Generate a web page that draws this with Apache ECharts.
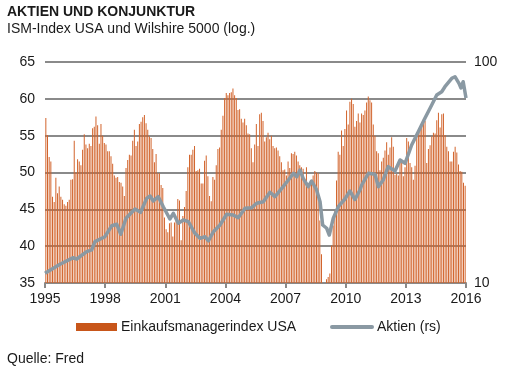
<!DOCTYPE html>
<html>
<head>
<meta charset="utf-8">
<script src="https://cdn.jsdelivr.net/npm/echarts@6/dist/echarts.min.js"></script>
<style>
html,body{margin:0;padding:0;background:#fff;}
#c{width:518px;height:383px;}
</style>
</head>
<body>
<div id="c"></div>
<script>
// ISM manufacturing index USA, monthly, Jan 1995 - Dec 2015
const ismStartYear = 1995;
const ism = [
  57.4, 55.1, 52.1, 51.5, 46.7, 46.0, 49.3, 47.2, 48.1, 46.7, 46.3, 45.7, // 1995
  45.5, 46.0, 46.3, 49.0, 49.1, 54.3, 50.0, 51.8, 51.5, 51.0, 53.1, 55.2, // 1996
  53.8, 53.3, 53.9, 53.6, 56.0, 56.2, 57.6, 56.4, 53.9, 56.6, 55.0, 54.0, // 1997
  53.8, 52.9, 52.9, 52.2, 51.2, 49.6, 49.3, 49.4, 48.7, 48.6, 48.1, 46.8, // 1998
  50.6, 51.7, 52.4, 52.3, 54.3, 55.8, 53.6, 54.2, 56.6, 56.9, 57.5, 57.8, // 1999
  56.7, 55.8, 54.9, 54.7, 53.2, 51.4, 52.5, 49.9, 49.9, 48.3, 47.9, 43.9, // 2000
  42.3, 41.9, 43.1, 43.2, 41.3, 43.2, 43.5, 46.4, 46.2, 40.8, 44.1, 45.3, // 2001
  47.5, 50.7, 52.4, 52.4, 53.1, 53.6, 50.2, 50.3, 50.5, 48.5, 48.5, 51.6, // 2002
  52.3, 49.5, 46.8, 46.1, 49.4, 49.0, 51.0, 53.2, 53.4, 55.8, 57.7, 60.1, // 2003
  60.8, 60.5, 60.8, 60.9, 61.4, 60.5, 60.1, 58.5, 58.6, 57.3, 56.8, 57.3, // 2004
  56.4, 55.3, 55.2, 53.3, 51.4, 53.8, 56.6, 53.6, 57.9, 58.1, 57.0, 54.2, // 2005
  54.8, 55.4, 54.5, 55.0, 53.6, 53.3, 53.4, 53.0, 52.2, 51.4, 50.3, 50.4, // 2006
  49.6, 51.5, 50.6, 52.6, 52.5, 52.8, 52.3, 51.5, 51.0, 50.7, 50.5, 48.8, // 2007
  50.7, 48.3, 48.6, 48.6, 49.6, 50.2, 50.0, 49.9, 43.5, 38.9, 34.8, 33.0, // 2008
  35.5, 35.8, 36.3, 40.1, 42.8, 44.8, 48.9, 52.8, 52.4, 55.7, 53.6, 55.9, // 2009
  58.4, 56.5, 59.6, 60.0, 59.3, 56.2, 57.0, 58.0, 56.8, 58.0, 57.8, 58.4, // 2010
  59.5, 60.3, 59.8, 59.5, 56.5, 55.0, 52.9, 52.6, 50.3, 51.5, 52.0, 53.0, // 2011
  54.1, 52.4, 53.4, 54.8, 53.5, 49.7, 49.8, 49.6, 51.5, 51.7, 49.5, 50.7, // 2012
  54.7, 54.2, 51.3, 50.7, 49.0, 50.9, 55.4, 55.7, 56.2, 56.4, 57.3, 57.0, // 2013
  51.3, 53.2, 53.7, 54.9, 55.4, 55.3, 57.1, 58.1, 56.1, 57.9, 58.0, 55.1, // 2014
  53.5, 52.9, 51.5, 51.5, 52.8, 53.5, 52.7, 51.1, 50.2, 50.1, 48.6, 48.2  // 2015
];

// Wilshire 5000 (log, right scale): [decimal year, index]
const stockDates = [
  1995.00, 1995.75, 1996.41, 1996.58, 1997.08, 1997.33, 1997.49, 1997.99,
  1998.33, 1998.58, 1998.78, 1999.04, 1999.49, 1999.77, 2000.07, 2000.24,
  2000.40, 2000.65, 2000.90, 2001.23, 2001.40, 2001.65, 2001.90, 2002.15,
  2002.48, 2002.73, 2002.98, 2003.15, 2003.40, 2003.73, 2004.06, 2004.39,
  2004.64, 2004.98, 2005.31, 2005.56, 2005.89, 2006.22, 2006.47, 2006.81,
  2007.14, 2007.39, 2007.56, 2007.72, 2007.88, 2008.13, 2008.30, 2008.55,
  2008.72, 2008.85, 2009.05, 2009.18, 2009.38, 2009.63, 2009.96, 2010.21,
  2010.46, 2010.71, 2010.80, 2011.13, 2011.46, 2011.63, 2011.87, 2012.12,
  2012.46, 2012.71, 2012.96, 2013.29, 2013.62, 2013.95, 2014.29, 2014.54,
  2014.79, 2014.95, 2015.29, 2015.45, 2015.65, 2015.75, 2015.86, 2016.00
];
const stockValues = [
  11.06, 12.15, 13.02, 12.84, 13.86, 14.11, 15.38, 16.20,
  18.16, 18.44, 16.61, 19.63, 21.62, 20.89, 24.16, 24.76,
  23.50, 24.58, 22.14, 19.48, 20.67, 18.63, 19.28, 18.94,
  16.79, 15.93, 16.20, 15.49, 17.07, 18.30, 20.46, 20.31,
  19.75, 21.78, 21.92, 22.95, 23.33, 25.73, 24.58, 26.83,
  29.25, 31.35, 30.27, 32.45, 29.77, 27.28, 28.94, 26.36,
  23.33, 18.30, 17.69, 16.49, 19.63, 22.14, 23.99, 26.08,
  23.86, 26.36, 27.76, 31.35, 31.03, 27.28, 29.25, 33.60,
  32.12, 36.04, 34.81, 42.12, 48.39, 55.64, 63.92, 70.91,
  73.38, 77.30, 84.38, 85.80, 80.11, 76.27, 81.46, 68.73
];

const xTicks = [1995, 1998, 2001, 2004, 2007, 2010, 2013, 2016];
const leftTicks = [35, 40, 45, 50, 55, 60, 65];
const rightTicks = [10, 100];

const barName = 'Einkaufsmanagerindex USA';
const lineName = 'Aktien (rs)';

const barData = ism.map((v, i) => [ismStartYear + (i + 0.5) / 12, v]);
const lineData = stockDates.map((d, i) => [d, stockValues[i]]);

const FONT = '"Liberation Sans", Arial, sans-serif';
const TXT = '#1a1a1a';
const GRID = '#8a8a8a';
const BAR = '#c8561a';
const BAR_PLOT = '#d2642c';
const LINE = '#8a99a3';

const chart = echarts.init(document.getElementById('c'), null, {renderer: 'canvas'});
chart.setOption({
  animation: false,
  backgroundColor: '#ffffff',
  textStyle: {fontFamily: FONT},
  grid: {left: 45, right: 52, top: 62, bottom: 100, containLabel: false},
  graphic: [
    {type: 'text', left: 7, top: 5, style: {text: 'AKTIEN UND KONJUNKTUR', font: 'bold 14px ' + FONT, fill: TXT}},
    {type: 'text', left: 7, top: 22, style: {text: 'ISM-Index USA und Wilshire 5000 (log.)', font: '14px ' + FONT, fill: TXT}},
    {type: 'text', left: 7, top: 352, style: {text: 'Quelle: Fred', font: '14px ' + FONT, fill: TXT}},
    // legend
    {type: 'rect', shape: {x: 76, y: 323, width: 41, height: 8}, style: {fill: BAR}},
    {type: 'text', x: 121, y: 327, style: {text: barName, font: '14px ' + FONT, fill: TXT, textVerticalAlign: 'middle', verticalAlign: 'middle'}},
    {type: 'line', shape: {x1: 332, y1: 327, x2: 372, y2: 327}, style: {stroke: LINE, lineWidth: 4, lineCap: 'round'}},
    {type: 'text', x: 377, y: 327, style: {text: lineName, font: '14px ' + FONT, fill: TXT, textVerticalAlign: 'middle', verticalAlign: 'middle'}}
  ],
  xAxis: {
    type: 'value', min: xTicks[0], max: xTicks[xTicks.length - 1], interval: 3,
    axisLine: {show: true, lineStyle: {color: GRID, width: 2}},
    axisTick: {show: true, length: 5, lineStyle: {color: GRID, width: 2}},
    axisLabel: {fontSize: 14, color: TXT, margin: 9, formatter: v => String(v)},
    splitLine: {show: false}
  },
  yAxis: [
    {
      type: 'value', min: leftTicks[0], max: leftTicks[leftTicks.length - 1], interval: 5,
      axisLine: {show: false}, axisTick: {show: false},
      axisLabel: {fontSize: 14, color: TXT, margin: 10},
      splitLine: {show: true, lineStyle: {color: GRID, width: 2}}
    },
    {
      type: 'log', logBase: 10, min: rightTicks[0], max: rightTicks[1],
      position: 'right',
      axisLine: {show: false}, axisTick: {show: false},
      axisLabel: {fontSize: 14, color: TXT, margin: 8,
        formatter: v => (rightTicks.indexOf(Math.round(v)) >= 0 ? String(Math.round(v)) : '')},
      splitLine: {show: false}, minorTick: {show: false}
    }
  ],
  series: [
    {
      name: barName, type: 'bar', yAxisIndex: 0, data: barData,
      barWidth: 0.8, itemStyle: {color: BAR_PLOT}, clip: true, z: 2
    },
    {
      name: lineName, type: 'line', yAxisIndex: 1, data: lineData,
      symbol: 'none', showSymbol: false, smooth: false,
      lineStyle: {color: LINE, width: 3.5, join: 'round'}, z: 3
    }
  ]
});
</script>
</body>
</html>
